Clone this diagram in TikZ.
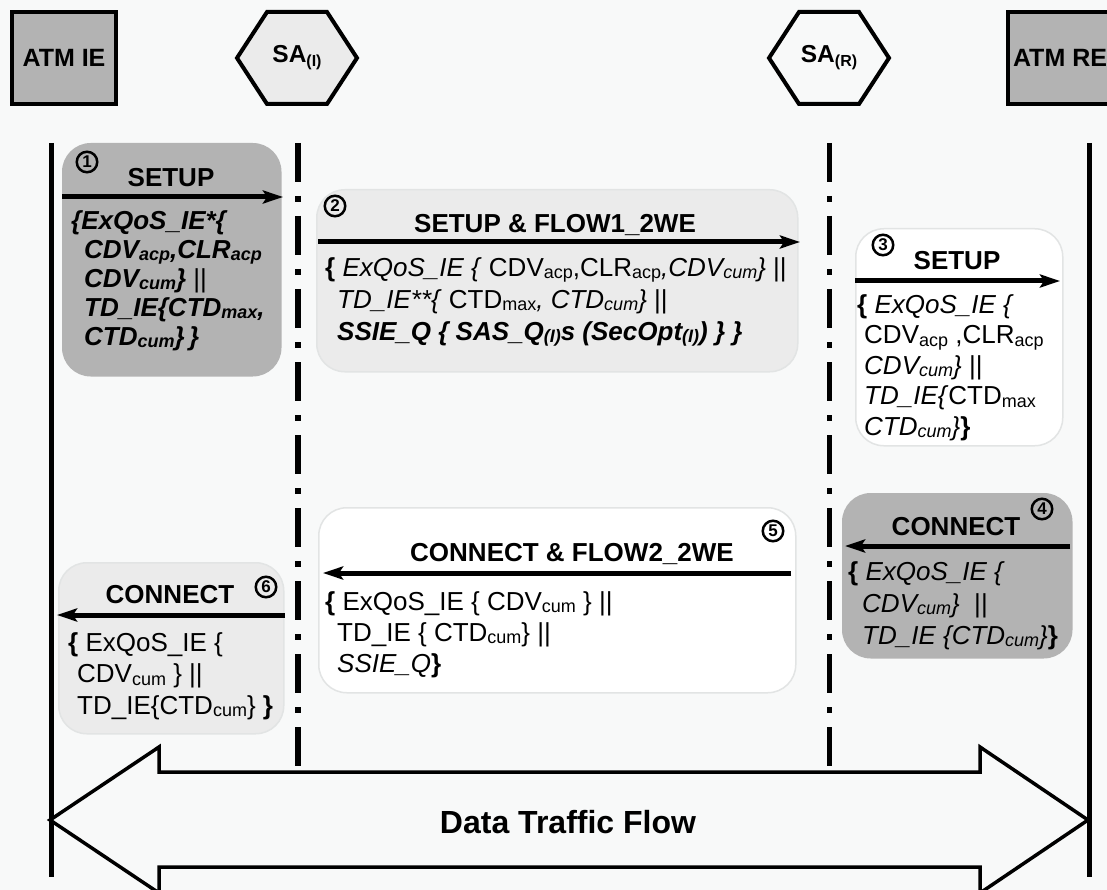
\documentclass[tikz,border=0pt]{standalone}
\usepackage{fontspec}
\setmainfont{Liberation Sans}
\usetikzlibrary{arrows.meta,calc}

% lowered index text (acp, cum, max, (I) ...)
\newcommand\lo[1]{\raisebox{-2.5pt}{\fontsize{18}{18}\selectfont #1}}
\newcommand\agentsub[1]{\raisebox{-4pt}{\fontsize{16}{16}\selectfont #1}}

\definecolor{bg}{HTML}{F8F9F9}
\definecolor{darkbox}{HTML}{B3B3B3}
\definecolor{lightbox}{HTML}{EBEBEB}
\definecolor{boxrim}{HTML}{E2E4E4}

\begin{document}
\begin{tikzpicture}[x=1pt,y=-1pt,
  entity/.style={draw, line width=4pt, fill=darkbox, minimum width=104pt,
    minimum height=92pt, inner sep=0pt, font=\fontsize{25}{25}\selectfont\bfseries},
  agenttext/.style={inner sep=0pt, font=\fontsize{24.5}{24.5}\selectfont\bfseries},
  hexline/.style={line width=4pt, line join=miter},
  lifeline/.style={line width=5pt},
  agentline/.style={line width=5.5pt, dash pattern=on 39pt off 14pt on 6pt off 14pt},
  msgbox/.style={rounded corners=28pt, inner sep=0pt, anchor=north west, line width=1.5pt},
  msgarrow/.style={line width=5pt, -{Stealth[length=20pt,width=13pt,inset=4pt]}},
  msgtitle/.style={font=\fontsize{26}{26}\selectfont\bfseries, inner sep=0pt, anchor=base},
  % anchored at the base line of the last text line
  msgbody/.style={align=left, inner sep=0pt, anchor=base west},
  stepnum/.style={circle, draw, line width=2.5pt, minimum size=20.5pt, inner sep=0pt,
    font=\fontsize{17}{17}\selectfont\bfseries},
  flowarrow/.style={line width=3.5pt, line join=miter, fill=bg}
]
\useasboundingbox (0,0) rectangle (1107,890);
\fill[bg] (0,0) rectangle (1107,890);
\clip (0,0) rectangle (1107,890);

% ---------- end points and agents ----------
\node[entity] (atmie) at (64,58) {ATM IE};
\node[entity] (atmre) at (1060,58) {ATM RE};

\coordinate (saiC) at (297,58);
\coordinate (sarC) at (829,58);
\draw[hexline, fill=lightbox] ($(saiC)+(-60,0)$) -- ($(saiC)+(-30,-46)$) -- ($(saiC)+(30,-46)$)
  -- ($(saiC)+(60,0)$) -- ($(saiC)+(30,46)$) -- ($(saiC)+(-30,46)$) -- cycle;
\draw[hexline, fill=bg] ($(sarC)+(-60,0)$) -- ($(sarC)+(-30,-46)$) -- ($(sarC)+(30,-46)$)
  -- ($(sarC)+(60,0)$) -- ($(sarC)+(30,46)$) -- ($(sarC)+(-30,46)$) -- cycle;
\node[agenttext] (sai) at (saiC) {SA\agentsub{(I)}};
\node[agenttext] (sar) at (sarC) {SA\agentsub{(R)}};

% ---------- life lines ----------
\coordinate (ieTop) at (51,143);  \coordinate (ieBot) at (51,877);
\coordinate (reTop) at (1089,143); \coordinate (reBot) at (1089,877);
\coordinate (saiTop) at (298,143); \coordinate (saiBot) at (298,766);
\coordinate (sarTop) at (829.5,143); \coordinate (sarBot) at (829.5,766);
\draw[lifeline] (ieTop) -- (ieBot);
\draw[lifeline] (reTop) -- (reBot);
\draw[agentline] (saiTop) -- (saiBot);
\draw[agentline] (sarTop) -- (sarBot);

% ---------- message 1: SETUP ----------
\node[msgbox, draw=darkbox, fill=darkbox, minimum width=218pt, minimum height=232pt] (box1) at (62,143) {};
\node[stepnum] (n1) at (87,162) {1};
\node[msgtitle] (t1) at (171,187) {SETUP};
\coordinate (m1s) at (62,197); \coordinate (m1e) at (283,197);
\draw[msgarrow] (m1s) -- (m1e);
\node[msgbody, font=\fontsize{26}{29}\selectfont\bfseries\itshape] (p1) at (71,345)
 {\{ExQoS\_IE*\{\\
  \hspace*{13pt}CDV\lo{acp},CLR\lo{acp}\\
  \hspace*{13pt}CDV\lo{cum}\} {\mdseries\upshape ||}\\
  \hspace*{13pt}TD\_IE\{CTD\lo{max},\\
  \hspace*{13pt}CTD\lo{cum}\}\,\}};

% ---------- message 2: SETUP & FLOW1_2WE ----------
\node[msgbox, draw=boxrim, fill=lightbox, minimum width=481pt, minimum height=182pt] (box2) at (316,189) {};
\node[stepnum] (n2) at (335,206) {2};
\node[msgtitle] (t2) at (555,233) {SETUP \& FLOW1\_2WE};
\coordinate (m2s) at (318,242); \coordinate (m2e) at (800,242);
\draw[msgarrow] (m2s) -- (m2e);
\node[msgbody, font=\fontsize{26}{32}\selectfont] (p2) at (325,340)
 {\textbf{\{} \textit{ExQoS\_IE \{} CDV\lo{acp},CLR\lo{acp}\textit{,CDV\lo{cum}\}} ||\\
  \hspace*{12pt}\textit{TD\_IE**\{} CTD\lo{max}\textit{, CTD\lo{cum}\}} ||\\
  \hspace*{12pt}\textbf{\itshape SSIE\_Q \{ SAS\_Q\lo{(I)}s (SecOpt\lo{(I)}) \} \}}};

% ---------- message 3: SETUP ----------
\node[msgbox, draw=boxrim, fill=white, minimum width=207pt, minimum height=217pt] (box3) at (855,228) {};
\node[stepnum] (n3) at (883,245) {3};
\node[msgtitle] (t3) at (957,270) {SETUP};
\coordinate (m3s) at (855,281); \coordinate (m3e) at (1060,281);
\draw[msgarrow] (m3s) -- (m3e);
\node[msgbody, font=\fontsize{26}{30.5}\selectfont] (p3) at (857,435)
 {\textbf{\{} \textit{ExQoS\_IE \{}\\
  \hspace*{7pt}CDV\lo{acp} ,CLR\lo{acp}\\
  \hspace*{7pt}\textit{CDV\lo{cum}\}} ||\\
  \hspace*{7pt}\textit{TD\_IE\{}CTD\lo{max}\\
  \hspace*{7pt}\textit{CTD\lo{cum}\}}\textbf{\}}};

% ---------- message 4: CONNECT ----------
\node[msgbox, draw=darkbox, fill=darkbox, minimum width=229pt, minimum height=164pt] (box4) at (842,493) {};
\node[stepnum] (n4) at (1042,509) {4};
\node[msgtitle] (t4) at (956,535) {CONNECT};
\coordinate (m4s) at (1070,546); \coordinate (m4e) at (845,546);
\draw[msgarrow] (m4s) -- (m4e);
\node[msgbody, font=\fontsize{26}{32}\selectfont] (p4) at (848,644)
 {\textbf{\{} \textit{ExQoS\_IE \{}\\
  \hspace*{14pt}\textit{CDV\lo{cum}\}}\ \ ||\\
  \hspace*{14pt}\textit{TD\_IE \{CTD\lo{cum}\}}\textbf{\}}};

% ---------- message 5: CONNECT & FLOW2_2WE ----------
\node[msgbox, draw=boxrim, fill=white, minimum width=477pt, minimum height=185pt] (box5) at (318,507) {};
\node[stepnum] (n5) at (773,531) {5};
\node[msgtitle] (t5) at (572,561) {CONNECT \& FLOW2\_2WE};
\coordinate (m5s) at (791,573); \coordinate (m5e) at (323,573);
\draw[msgarrow] (m5s) -- (m5e);
\node[msgbody, font=\fontsize{26}{31}\selectfont] (p5) at (325,672)
 {\textbf{\{} ExQoS\_IE \{ CDV\lo{cum} \} ||\\
  \hspace*{12pt}TD\_IE \{ CTD\lo{cum}\} ||\\
  \hspace*{12pt}\textit{SSIE\_Q}\textbf{\}}};

% ---------- message 6: CONNECT ----------
\node[msgbox, draw=boxrim, fill=lightbox, minimum width=225pt, minimum height=171pt] (box6) at (58,562) {};
\node[stepnum] (n6) at (266,587) {6};
\node[msgtitle] (t6) at (170,603) {CONNECT};
\coordinate (m6s) at (285,615); \coordinate (m6e) at (57,615);
\draw[msgarrow] (m6s) -- (m6e);
\node[msgbody, font=\fontsize{26}{31.5}\selectfont] (p6) at (68,714)
 {\textbf{\{} ExQoS\_IE \{\\
  \hspace*{9pt}CDV\lo{cum} \} ||\\
  \hspace*{9pt}TD\_IE\{CTD\lo{cum}\} \textbf{\}}};

% ---------- data traffic double arrow ----------
\draw[flowarrow] (50,820) -- (159,747) -- (159,772) -- (980,772) -- (980,747) -- (1088,820)
  -- (980,893) -- (980,867) -- (159,867) -- (159,893) -- cycle;
\node[inner sep=0pt, font=\fontsize{32}{32}\selectfont\bfseries] (flow) at (568,822) {Data Traffic Flow};
\end{tikzpicture}
\end{document}
